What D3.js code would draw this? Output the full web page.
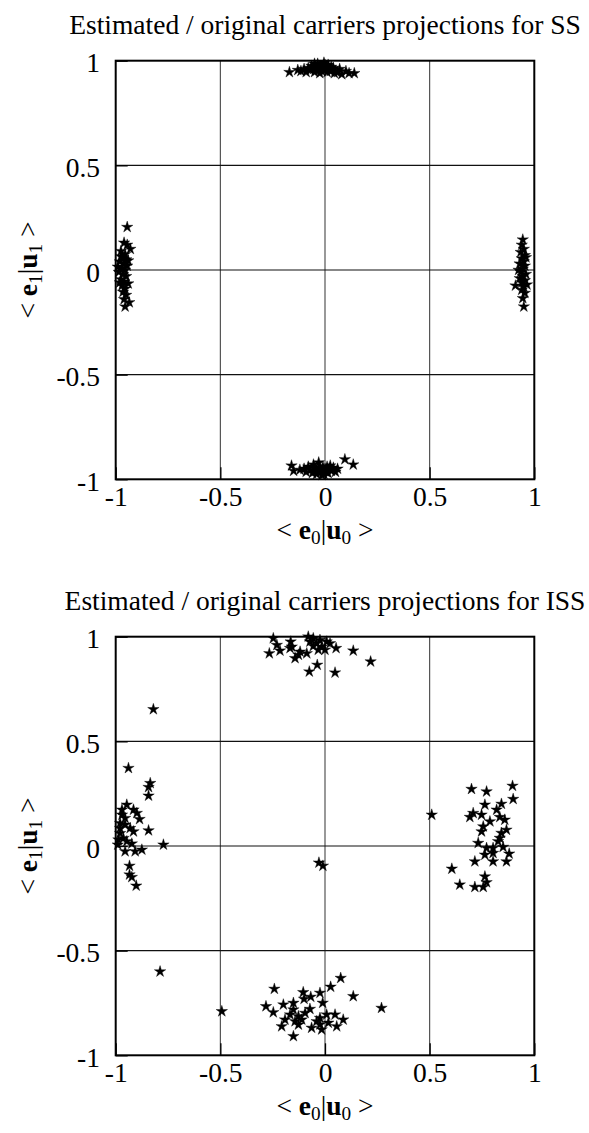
<!DOCTYPE html>
<html>
<head>
<meta charset="utf-8">
<script src="https://cdn.jsdelivr.net/npm/d3@7"></script>
<style>
  html, body { margin: 0; padding: 0; background: #fff; }
  svg { display: block; }
  text { font-family: "Liberation Serif", "Times New Roman", serif; fill: #000; }
</style>
</head>
<body>
<svg id="chart" width="589" height="1133"></svg>
<script>
// ---------------- DATA ----------------
const tickValues = [-1, -0.5, 0, 0.5, 1];
const tickLabels = ["-1", "-0.5", "0", "0.5", "1"];
const gridValues = [-0.5, 0, 0.5];
const titles = [
  "Estimated / original carriers projections for SS",
  "Estimated / original carriers projections for ISS"
];

// SS : four tight clusters
const ssTop = [[-0.17,0.945],[-0.13,0.955],[-0.115,0.95],[-0.10,0.96],[-0.09,0.945],[-0.08,0.965],[-0.07,0.955],[-0.065,0.975],[-0.055,0.96],[-0.05,0.945],[-0.045,0.97],[-0.04,0.955],[-0.035,0.985],[-0.03,0.96],[-0.025,0.94],[-0.02,0.975],[-0.015,0.95],[-0.01,0.965],[-0.005,0.99],[0,0.955],[0.005,0.97],[0.01,0.945],[0.015,0.98],[0.02,0.96],[0.025,0.95],[0.03,0.97],[0.035,0.955],[0.04,0.965],[0.05,0.95],[0.06,0.945],[0.07,0.96],[0.08,0.935],[0.10,0.95],[0.115,0.94],[0.14,0.94],[-0.05,0.985],[0.0,0.98],[0.045,0.94]];
const ssBottom = [[-0.16,-0.935],[-0.15,-0.96],[-0.12,-0.955],[-0.10,-0.95],[-0.09,-0.965],[-0.08,-0.94],[-0.07,-0.955],[-0.06,-0.97],[-0.05,-0.945],[-0.045,-0.96],[-0.04,-0.975],[-0.03,-0.92],[-0.03,-0.95],[-0.02,-0.965],[-0.01,-0.94],[-0.005,-0.975],[0,-0.955],[0.005,-0.965],[0.01,-0.94],[0.015,-0.97],[0.02,-0.95],[0.03,-0.96],[0.04,-0.945],[0.05,-0.965],[0.06,-0.95],[0.095,-0.905],[0.135,-0.93],[-0.055,-0.93],[0.025,-0.935],[-0.015,-0.98]];
const ssLeft = [[-0.945,0.205],[-0.96,0.13],[-0.945,0.12],[-0.93,0.10],[-0.975,0.09],[-0.955,0.075],[-0.965,0.06],[-0.95,0.05],[-0.98,0.04],[-0.96,0.03],[-0.945,0.02],[-0.97,0.01],[-0.955,0.0],[-0.985,-0.01],[-0.965,-0.02],[-0.95,-0.03],[-0.975,-0.045],[-0.96,-0.055],[-0.94,-0.065],[-0.97,-0.075],[-0.955,-0.09],[-0.965,-0.105],[-0.95,-0.12],[-0.96,-0.14],[-0.955,-0.175],[-0.935,-0.155],[-0.975,0.065],[-0.94,0.045],[-0.99,0.015],[-0.98,-0.06]];
const ssRight = [[0.945,0.145],[0.94,0.12],[0.95,0.1],[0.935,0.085],[0.955,0.07],[0.94,0.055],[0.95,0.04],[0.93,0.03],[0.955,0.02],[0.945,0.005],[0.935,-0.01],[0.96,-0.02],[0.945,-0.03],[0.93,-0.04],[0.955,-0.05],[0.94,-0.06],[0.91,-0.075],[0.95,-0.08],[0.94,-0.095],[0.955,-0.11],[0.945,-0.135],[0.95,-0.175],[0.96,0.06],[0.925,0.0],[0.965,-0.07]];

// ISS : scattered clusters
const issTop = [[-0.247,0.992],[-0.266,0.92],[-0.215,0.933],[-0.23,0.96],[-0.164,0.976],[-0.159,0.952],[-0.143,0.897],[-0.127,0.913],[-0.087,0.92],[-0.08,1.0],[-0.072,0.976],[-0.056,0.992],[-0.04,0.968],[-0.024,0.984],[-0.016,0.952],[0,0.937],[0.008,0.976],[0.024,0.968],[0.053,0.945],[0.135,0.933],[0.218,0.881],[-0.037,0.865],[-0.075,0.833],[0.048,0.828],[-0.056,0.955],[-0.119,0.928],[-0.167,0.945],[-0.032,0.937]];
const issLeft = [[-0.82,0.653],[-0.939,0.372],[-0.835,0.30],[-0.843,0.281],[-0.843,0.24],[-0.947,0.197],[-0.97,0.173],[-0.915,0.173],[-0.899,0.157],[-0.886,0.128],[-0.955,0.133],[-0.979,0.109],[-0.931,0.085],[-0.843,0.074],[-0.915,0.069],[-0.979,0.061],[-0.963,0.037],[-0.987,0.03],[-0.947,0.022],[-0.772,0.006],[-0.99,0.006],[-0.923,0.011],[-0.955,-0.026],[-0.907,-0.026],[-0.875,-0.018],[-0.934,-0.095],[-0.934,-0.137],[-0.923,-0.149],[-0.902,-0.19],[-0.97,0.149],[-0.955,0.101],[-0.979,0.085],[-0.788,-0.60]];
const issRight = [[0.70,0.272],[0.772,0.26],[0.896,0.287],[0.899,0.224],[0.764,0.197],[0.843,0.201],[0.708,0.157],[0.82,0.173],[0.692,0.138],[0.748,0.149],[0.835,0.138],[0.788,0.117],[0.859,0.125],[0.756,0.093],[0.748,0.069],[0.867,0.077],[0.843,0.062],[0.835,0.038],[0.827,0.022],[0.732,0.014],[0.772,-0.01],[0.803,-0.01],[0.851,-0.005],[0.764,-0.042],[0.803,-0.034],[0.88,-0.037],[0.716,-0.074],[0.803,-0.074],[0.867,-0.074],[0.764,-0.146],[0.772,-0.174],[0.716,-0.196],[0.756,-0.196],[0.644,-0.185],[0.51,0.149],[0.606,-0.109]];
const issCenter = [[-0.029,-0.08],[-0.01,-0.095]];
const issBottom = [[-0.493,-0.79],[-0.242,-0.683],[-0.282,-0.766],[-0.247,-0.795],[-0.199,-0.758],[-0.151,-0.75],[-0.104,-0.699],[-0.10,-0.731],[-0.068,-0.721],[-0.024,-0.702],[-0.011,-0.75],[0.027,-0.673],[0.075,-0.631],[0.135,-0.718],[0.27,-0.774],[-0.151,-0.782],[-0.167,-0.806],[-0.127,-0.814],[-0.191,-0.83],[-0.143,-0.838],[-0.095,-0.798],[-0.072,-0.779],[-0.207,-0.862],[-0.127,-0.854],[-0.151,-0.909],[-0.064,-0.869],[-0.016,-0.877],[-0.024,-0.822],[0.008,-0.806],[0.016,-0.845],[0.048,-0.806],[0.056,-0.862],[0.087,-0.83],[-0.024,-0.853],[-0.04,-0.838],[-0.111,-0.83]];

const ssPoints = [].concat(ssTop, ssBottom, ssLeft, ssRight);
const issPoints = [].concat(issTop, issLeft, issRight, issCenter, issBottom);

// ---------------- DRAW ----------------
const svg = d3.select("#chart");
const FS = 27.5;
const plotLeft = 115.7, plotSize = 418.6;
const panelTops = [60.7, 636.7];
const panelData = [ssPoints, issPoints];

// thin five-pointed star (LaTeX \star like)
const starType = {
  draw(ctx, size) {
    const R = Math.sqrt(size), r = R * 0.36;
    for (let i = 0; i < 10; i++) {
      const rad = i % 2 ? r : R;
      const a = -Math.PI / 2 + i * Math.PI / 5;
      const px = rad * Math.cos(a), py = rad * Math.sin(a);
      if (i === 0) ctx.moveTo(px, py); else ctx.lineTo(px, py);
    }
    ctx.closePath();
  }
};
const star = d3.symbol().type(starType).size(36);

function mathLabel(sel, sub) {
  sel.append("tspan").text("< ");
  sel.append("tspan").attr("font-weight", "bold").text("e");
  sel.append("tspan").attr("font-size", FS * 0.7).attr("dy", 5).text(sub);
  sel.append("tspan").attr("dy", -5).text("|");
  sel.append("tspan").attr("font-weight", "bold").text("u");
  sel.append("tspan").attr("font-size", FS * 0.7).attr("dy", 5).text(sub);
  sel.append("tspan").attr("dy", -5).text(" >");
}

panelTops.forEach((top, pi) => {
  const x = d3.scaleLinear().domain([-1, 1]).range([plotLeft, plotLeft + plotSize]);
  const y = d3.scaleLinear().domain([-1, 1]).range([top + plotSize, top]);
  const g = svg.append("g");

  // title
  g.append("text").attr("x", x(0)).attr("y", top - 27)
    .attr("text-anchor", "middle").attr("font-size", FS).text(titles[pi]);

  // grid
  g.selectAll(".vg").data(gridValues).join("line")
    .attr("x1", d => x(d)).attr("x2", d => x(d))
    .attr("y1", y(-1)).attr("y2", y(1))
    .attr("stroke", "#444").attr("stroke-width", 1.1);
  g.selectAll(".hg").data(gridValues).join("line")
    .attr("y1", d => y(d)).attr("y2", d => y(d))
    .attr("x1", x(-1)).attr("x2", x(1))
    .attr("stroke", "#111").attr("stroke-width", 1.1);

  // axes (inward ticks, labels)
  const xAxis = d3.axisBottom(x).tickValues(tickValues).tickSize(-12)
    .tickFormat((d, i) => tickLabels[i]).tickPadding(18);
  const gx = g.append("g").attr("transform", `translate(0,${y(-1)})`).call(xAxis);
  gx.select(".domain").remove();
  gx.selectAll(".tick line").attr("stroke", "#000").attr("stroke-width", 1.3);
  gx.selectAll(".tick text").attr("font-size", FS).attr("font-family", "Liberation Serif")
    .attr("fill", "#000").attr("dy", null).attr("y", 27);

  const yAxis = d3.axisLeft(y).tickValues(tickValues).tickSize(-12)
    .tickFormat((d, i) => tickLabels[i]);
  const gy = g.append("g").attr("transform", `translate(${x(-1)},0)`).call(yAxis);
  gy.select(".domain").remove();
  gy.selectAll(".tick line").attr("stroke", "#000").attr("stroke-width", 1.3);
  gy.selectAll(".tick text").attr("font-size", FS).attr("font-family", "Liberation Serif")
    .attr("fill", "#000").attr("x", -15.7).attr("dy", null).attr("y", 11);

  // border
  g.append("rect").attr("x", x(-1)).attr("y", y(1))
    .attr("width", x(1) - x(-1)).attr("height", y(-1) - y(1))
    .attr("fill", "none").attr("stroke", "#000").attr("stroke-width", 2);

  // axis labels
  const xl = g.append("text").attr("x", x(0)).attr("y", y(-1) + 60)
    .attr("text-anchor", "middle").attr("font-size", FS);
  mathLabel(xl, "0");
  const yl = g.append("text")
    .attr("transform", `translate(37,${y(0)}) rotate(-90)`)
    .attr("text-anchor", "middle").attr("font-size", FS);
  mathLabel(yl, "1");

  // points
  g.selectAll(".pt").data(panelData[pi]).join("path")
    .attr("transform", d => `translate(${x(d[0])},${y(d[1])})`)
    .attr("d", star)
    .attr("fill", "#000").attr("stroke", "#000").attr("stroke-width", 0.4);
});
</script>
</body>
</html>
